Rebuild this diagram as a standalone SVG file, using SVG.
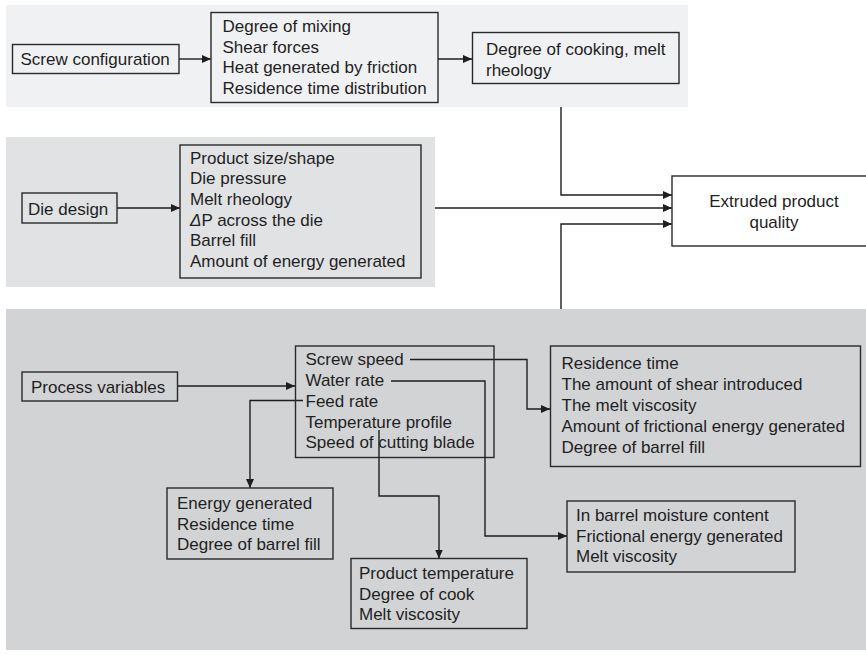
<svg xmlns="http://www.w3.org/2000/svg" width="866" height="658" viewBox="0 0 866 658">
  <defs>
    <marker id="arrow" markerWidth="9" markerHeight="8" refX="9" refY="4" orient="auto" markerUnits="userSpaceOnUse">
      <path d="M0,0 L9,4 L0,8 Z" fill="#1e1e1e"/>
    </marker>
    <style>
      text { font-family: "Liberation Sans", Arial, sans-serif; font-size: 17px; fill: #1f1f1f; }
      .box { fill: none; stroke: #2a2a2a; stroke-width: 1.4; }
      .wbox { fill: #ffffff; stroke: #2a2a2a; stroke-width: 1.4; }
      .wire { fill: none; stroke: #1e1e1e; stroke-width: 1.4; }
      .arr { marker-end: url(#arrow); }
    </style>
  </defs>

  <rect width="866" height="658" fill="#ffffff"/>

  <!-- background bands -->
  <rect x="6" y="5" width="682" height="102" fill="#f0f1f3"/>
  <rect x="6" y="137" width="429" height="150" fill="#e1e2e4"/>
  <rect x="6" y="309" width="860" height="341" fill="#d2d3d5"/>

  <!-- connectors -->
  <g id="connectors">
    <line class="wire arr" x1="179" y1="59" x2="211" y2="59"/>
    <line class="wire arr" x1="438" y1="59" x2="472" y2="59"/>
    <polyline class="wire arr" points="561,107 561,195 672,195"/>
    <line class="wire arr" x1="435" y1="208" x2="672" y2="208"/>
    <polyline class="wire arr" points="561,309 561,224 672,224"/>
    <line class="wire arr" x1="117" y1="208" x2="180" y2="208"/>
    <line class="wire arr" x1="177" y1="386" x2="295" y2="386"/>
    <polyline class="wire arr" points="410,359.5 527,359.5 527,409 550,409"/>
    <polyline class="wire arr" points="391,381 485,381 485,536 567,536"/>
    <polyline class="wire arr" points="303,400.5 250,400.5 250,488"/>
    <polyline class="wire arr" points="379,430 379,496 439,496 439,558.5"/>
  </g>

  <!-- screw configuration branch -->
  <g id="screw-configuration">
    <rect class="box" x="12.5" y="44.5" width="166.5" height="29"/>
    <text x="20.5" y="65">Screw configuration</text>
  </g>
  <g id="screw-effects">
    <rect class="box" x="211" y="12.5" width="227" height="90"/>
    <text x="222.5" y="32">Degree of mixing</text>
    <text x="222.5" y="52.7">Shear forces</text>
    <text x="222.5" y="73.4">Heat generated by friction</text>
    <text x="222.5" y="94">Residence time distribution</text>
  </g>
  <g id="cooking-rheology">
    <rect class="box" x="472.5" y="32.5" width="206.5" height="51"/>
    <text x="486" y="55">Degree of cooking, melt</text>
    <text x="486" y="76">rheology</text>
  </g>

  <!-- output -->
  <g id="extruded-quality">
    <rect class="wbox" x="672" y="176" width="200" height="70"/>
    <text x="774" y="206.5" text-anchor="middle">Extruded product</text>
    <text x="774" y="228" text-anchor="middle">quality</text>
  </g>

  <!-- die design branch -->
  <g id="die-design">
    <rect class="box" x="22" y="193" width="95" height="30"/>
    <text x="28" y="214.5">Die design</text>
  </g>
  <g id="die-effects">
    <rect class="box" x="180" y="145" width="241" height="133"/>
    <text x="190" y="163.5">Product size/shape</text>
    <text x="190" y="184.2">Die pressure</text>
    <text x="190" y="204.9">Melt rheology</text>
    <text x="190" y="225.6"><tspan font-style="italic">Δ</tspan>P across the die</text>
    <text x="190" y="246.3">Barrel fill</text>
    <text x="190" y="267">Amount of energy generated</text>
  </g>

  <!-- process variables branch -->
  <g id="process-variables">
    <rect class="box" x="22" y="372" width="155.5" height="29"/>
    <text x="31" y="392.5">Process variables</text>
  </g>
  <g id="process-list">
    <rect class="box" x="295.5" y="346" width="198.5" height="111.5"/>
    <text x="305.5" y="365.3">Screw speed</text>
    <text x="305.5" y="386">Water rate</text>
    <text x="305.5" y="406.7">Feed rate</text>
    <text x="305.5" y="427.5">Temperature profile</text>
    <text x="305.5" y="448.2">Speed of cutting blade</text>
  </g>
  <g id="screw-speed-effects">
    <rect class="box" x="550.5" y="346" width="310" height="120.5"/>
    <text x="561.5" y="369">Residence time</text>
    <text x="561.5" y="390">The amount of shear introduced</text>
    <text x="561.5" y="411">The melt viscosity</text>
    <text x="561.5" y="432">Amount of frictional energy generated</text>
    <text x="561.5" y="452.7">Degree of barrel fill</text>
  </g>
  <g id="feed-rate-effects">
    <rect class="box" x="167" y="488" width="166" height="71"/>
    <text x="177" y="509">Energy generated</text>
    <text x="177" y="529.5">Residence time</text>
    <text x="177" y="550">Degree of barrel fill</text>
  </g>
  <g id="water-rate-effects">
    <rect class="box" x="567" y="501" width="228" height="71"/>
    <text x="576" y="521">In barrel moisture content</text>
    <text x="576" y="541.5">Frictional energy generated</text>
    <text x="576" y="562">Melt viscosity</text>
  </g>
  <g id="temperature-effects">
    <rect class="box" x="351" y="558.5" width="176" height="70"/>
    <text x="359" y="579">Product temperature</text>
    <text x="359" y="599.5">Degree of cook</text>
    <text x="359" y="620">Melt viscosity</text>
  </g>
</svg>
